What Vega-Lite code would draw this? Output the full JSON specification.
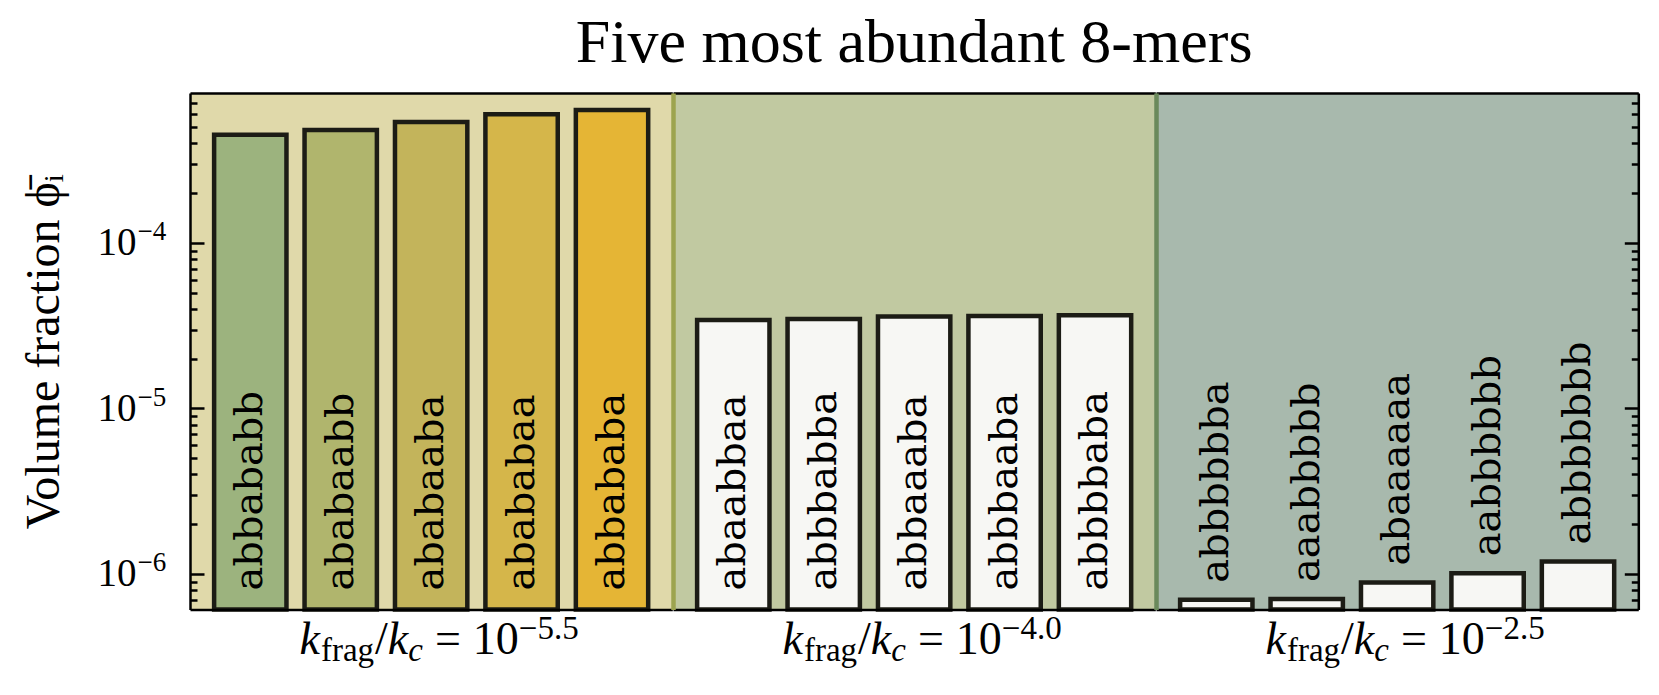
{
  "$schema": "https://vega.github.io/schema/vega-lite/v6.json",
  "padding": {"left": 20, "top": 12, "right": 18, "bottom": 5},
  "datasets": {
    "bars": [
      {"grp": 1, "rank": 1, "kmer": "abbababb", "phi": 4.51e-4},
      {"grp": 1, "rank": 2, "kmer": "ababaabb", "phi": 4.82e-4},
      {"grp": 1, "rank": 3, "kmer": "ababaaba", "phi": 5.38e-4},
      {"grp": 1, "rank": 4, "kmer": "abababaa", "phi": 6.00e-4},
      {"grp": 1, "rank": 5, "kmer": "abbababa", "phi": 6.36e-4},
      {"grp": 2, "rank": 1, "kmer": "abaabbaa", "phi": 3.42e-5},
      {"grp": 2, "rank": 2, "kmer": "abbbabba", "phi": 3.47e-5},
      {"grp": 2, "rank": 3, "kmer": "abbaaaba", "phi": 3.59e-5},
      {"grp": 2, "rank": 4, "kmer": "abbbaaba", "phi": 3.62e-5},
      {"grp": 2, "rank": 5, "kmer": "abbbbaba", "phi": 3.66e-5},
      {"grp": 3, "rank": 1, "kmer": "abbbbbba", "phi": 6.99e-7},
      {"grp": 3, "rank": 2, "kmer": "aaabbbbb", "phi": 7.06e-7},
      {"grp": 3, "rank": 3, "kmer": "abaaaaaa", "phi": 8.89e-7},
      {"grp": 3, "rank": 4, "kmer": "aabbbbbb", "phi": 1.01e-6},
      {"grp": 3, "rank": 5, "kmer": "abbbbbbb", "phi": 1.19e-6}
    ]
  },
  "spacing": 0,
  "bounds": "flush",
  "hconcat": [
    {
      "width": 482.3, "height": 516.5,
      "view": {"fill": "#e0d9aa", "stroke": null},
      "data": {"name": "bars"},
      "transform": [{"filter": "datum.grp == 1"}],
      "resolve": {"axis": {"y": "independent", "x": "independent"}},
      "layer": [
        {
          "mark": {"type": "bar", "stroke": "#1c1c15", "strokeWidth": 4.5},
          "encoding": {
            "x": {"field": "rank", "type": "ordinal", "scale": {"paddingInner": 0.2, "paddingOuter": 0.2667}, "axis": {"orient": "bottom", "labels": false, "ticks": false, "title": null, "domainColor": "black", "domainWidth": 2.5, "zindex": 1}},
            "y": {"field": "phi", "type": "quantitative", "stack": null, "scale": {"type": "log", "domain": [6.1e-7, 8.06e-4], "nice": false},
              "axis": {"orient": "left", "values": [1e-6, 1e-5, 1e-4], "labelExpr": "'10'", "labelAlign": "right", "labelBaseline": "middle", "tickSize": -14, "tickWidth": 2.5, "tickColor": "black", "labelPadding": 68, "labelFont": "Liberation Serif", "labelFontSize": 39, "labelColor": "black", "domainColor": "black", "domainWidth": 2.5, "grid": false, "title": "Volume fraction ϕ̄ᵢ", "titleFont": "Liberation Serif", "titleFontSize": 48, "titleFontWeight": "normal", "titleColor": "black", "titlePadding": 29, "zindex": 1}},
            "y2": {"value": "height"},
            "fill": {"field": "rank", "type": "ordinal", "scale": {"range": ["#9cb37e", "#b0b56d", "#c3b45b", "#d5b64a", "#e5b535"]}, "legend": null}
          }
        },
        {
          "mark": {"type": "point", "opacity": 0},
          "encoding": {
            "x": {"field": "rank", "type": "ordinal", "axis": null},
            "y": {"field": "phi", "type": "quantitative", "axis": {"orient": "left", "values": [7e-7, 8e-7, 9e-7, 2e-6, 3e-6, 4e-6, 5e-6, 6e-6, 7e-6, 8e-6, 9e-6, 2e-5, 3e-5, 4e-5, 5e-5, 6e-5, 7e-5, 8e-5, 9e-5, 2e-4, 3e-4, 4e-4, 5e-4, 6e-4, 7e-4], "labels": false, "domain": false, "tickSize": -7, "tickWidth": 2.5, "tickColor": "black", "grid": false, "title": null, "zindex": 1}}
          }
        },
        {
          "mark": {"type": "point", "opacity": 0},
          "encoding": {
            "x": {"field": "rank", "type": "ordinal", "axis": null},
            "y": {"field": "phi", "type": "quantitative", "axis": {"orient": "left", "values": [1e-6, 1e-5, 1e-4], "labelExpr": "datum.value < 3e-6 ? '−6' : datum.value < 3e-5 ? '−5' : '−4'", "labelAlign": "left", "labelBaseline": "middle", "labelOffset": -11, "labelPadding": 67, "tickSize": -14, "tickOpacity": 0, "labelFont": "Liberation Serif", "labelFontSize": 27, "labelColor": "black", "domain": false, "grid": false, "title": null, "zindex": 1}}
          }
        },
        {
          "mark": {"type": "text", "angle": 270, "align": "left", "baseline": "middle", "font": "DejaVu Serif", "fontSize": 40, "dx": 19, "color": "black"},
          "encoding": {
            "x": {"field": "rank", "type": "ordinal", "axis": {"orient": "top", "labels": false, "ticks": false, "title": null, "domainColor": "black", "domainWidth": 2.5, "zindex": 1}},
            "y": {"value": "height"},
            "text": {"field": "kmer"}
          }
        },
        {
          "transform": [{"filter": "datum.rank == 3"}],
          "encoding": {"x": {"field": "rank", "type": "ordinal", "axis": null}, "y": {"value": "height"}},
          "layer": [
            {"mark": {"type": "text", "font": "Liberation Serif", "fontSize": 46, "fontStyle": "italic", "align": "left", "baseline": "alphabetic", "dx": -131.6, "dy": 44, "color": "black"}, "encoding": {"text": {"value": "k"}}},
            {"mark": {"type": "text", "font": "Liberation Serif", "fontSize": 33, "align": "left", "baseline": "alphabetic", "dx": -110.2, "dy": 51, "color": "black"}, "encoding": {"text": {"value": "frag"}}},
            {"mark": {"type": "text", "font": "Liberation Serif", "fontSize": 46, "align": "left", "baseline": "alphabetic", "dx": -56.1, "dy": 44, "color": "black"}, "encoding": {"text": {"value": "/"}}},
            {"mark": {"type": "text", "font": "Liberation Serif", "fontSize": 46, "fontStyle": "italic", "align": "left", "baseline": "alphabetic", "dx": -43.3, "dy": 44, "color": "black"}, "encoding": {"text": {"value": "k"}}},
            {"mark": {"type": "text", "font": "Liberation Serif", "fontSize": 33, "fontStyle": "italic", "align": "left", "baseline": "alphabetic", "dx": -22.9, "dy": 51, "color": "black"}, "encoding": {"text": {"value": "c"}}},
            {"mark": {"type": "text", "font": "Liberation Serif", "fontSize": 46, "align": "left", "baseline": "alphabetic", "dx": 3.8, "dy": 44, "color": "black"}, "encoding": {"text": {"value": "="}}},
            {"mark": {"type": "text", "font": "Liberation Serif", "fontSize": 46, "align": "left", "baseline": "alphabetic", "dx": 41.7, "dy": 44, "color": "black"}, "encoding": {"text": {"value": "10"}}},
            {"mark": {"type": "text", "font": "Liberation Serif", "fontSize": 33, "align": "left", "baseline": "alphabetic", "dx": 87.7, "dy": 29, "color": "black"}, "encoding": {"text": {"value": "−5.5"}}}
          ]
        }
      ]
    },
    {
      "width": 482.3, "height": 516.5,
      "title": {"text": "Five most abundant 8-mers", "font": "Liberation Serif", "fontSize": 62, "fontWeight": "normal", "color": "black", "anchor": "middle", "offset": 18},
      "view": {"fill": "#c1c9a1", "stroke": null},
      "data": {"name": "bars"},
      "transform": [{"filter": "datum.grp == 2"}],
      "resolve": {"axis": {"y": "independent", "x": "independent"}},
      "layer": [
        {
          "mark": {"type": "bar", "stroke": "#1c1c15", "strokeWidth": 4.5, "fill": "#f7f7f4"},
          "encoding": {
            "x": {"field": "rank", "type": "ordinal", "scale": {"paddingInner": 0.2, "paddingOuter": 0.2667}, "axis": {"orient": "bottom", "labels": false, "ticks": false, "title": null, "domainColor": "black", "domainWidth": 2.5, "zindex": 1}},
            "y": {"field": "phi", "type": "quantitative", "stack": null, "scale": {"type": "log", "domain": [6.1e-7, 8.06e-4], "nice": false},
              "axis": {"orient": "left", "labels": false, "ticks": false, "grid": false, "title": null, "domainColor": "#9da44f", "domainWidth": 4.5, "zindex": 1}},
            "y2": {"value": "height"}
          }
        },
        {
          "mark": {"type": "text", "angle": 270, "align": "left", "baseline": "middle", "font": "DejaVu Serif", "fontSize": 40, "dx": 19, "color": "black"},
          "encoding": {
            "x": {"field": "rank", "type": "ordinal", "axis": {"orient": "top", "labels": false, "ticks": false, "title": null, "domainColor": "black", "domainWidth": 2.5, "zindex": 1}},
            "y": {"value": "height"},
            "text": {"field": "kmer"}
          }
        },
        {
          "transform": [{"filter": "datum.rank == 3"}],
          "encoding": {"x": {"field": "rank", "type": "ordinal", "axis": null}, "y": {"value": "height"}},
          "layer": [
            {"mark": {"type": "text", "font": "Liberation Serif", "fontSize": 46, "fontStyle": "italic", "align": "left", "baseline": "alphabetic", "dx": -131.6, "dy": 44, "color": "black"}, "encoding": {"text": {"value": "k"}}},
            {"mark": {"type": "text", "font": "Liberation Serif", "fontSize": 33, "align": "left", "baseline": "alphabetic", "dx": -110.2, "dy": 51, "color": "black"}, "encoding": {"text": {"value": "frag"}}},
            {"mark": {"type": "text", "font": "Liberation Serif", "fontSize": 46, "align": "left", "baseline": "alphabetic", "dx": -56.1, "dy": 44, "color": "black"}, "encoding": {"text": {"value": "/"}}},
            {"mark": {"type": "text", "font": "Liberation Serif", "fontSize": 46, "fontStyle": "italic", "align": "left", "baseline": "alphabetic", "dx": -43.3, "dy": 44, "color": "black"}, "encoding": {"text": {"value": "k"}}},
            {"mark": {"type": "text", "font": "Liberation Serif", "fontSize": 33, "fontStyle": "italic", "align": "left", "baseline": "alphabetic", "dx": -22.9, "dy": 51, "color": "black"}, "encoding": {"text": {"value": "c"}}},
            {"mark": {"type": "text", "font": "Liberation Serif", "fontSize": 46, "align": "left", "baseline": "alphabetic", "dx": 3.8, "dy": 44, "color": "black"}, "encoding": {"text": {"value": "="}}},
            {"mark": {"type": "text", "font": "Liberation Serif", "fontSize": 46, "align": "left", "baseline": "alphabetic", "dx": 41.7, "dy": 44, "color": "black"}, "encoding": {"text": {"value": "10"}}},
            {"mark": {"type": "text", "font": "Liberation Serif", "fontSize": 33, "align": "left", "baseline": "alphabetic", "dx": 87.7, "dy": 29, "color": "black"}, "encoding": {"text": {"value": "−4.0"}}}
          ]
        }
      ]
    },
    {
      "width": 482.3, "height": 516.5,
      "view": {"fill": "#a8b9ad", "stroke": null},
      "data": {"name": "bars"},
      "transform": [{"filter": "datum.grp == 3"}],
      "resolve": {"axis": {"y": "independent", "x": "independent"}},
      "layer": [
        {
          "mark": {"type": "bar", "stroke": "#1c1c15", "strokeWidth": 4.5, "fill": "#f7f7f4"},
          "encoding": {
            "x": {"field": "rank", "type": "ordinal", "scale": {"paddingInner": 0.2, "paddingOuter": 0.2667}, "axis": {"orient": "bottom", "labels": false, "ticks": false, "title": null, "domainColor": "black", "domainWidth": 2.5, "zindex": 1}},
            "y": {"field": "phi", "type": "quantitative", "stack": null, "scale": {"type": "log", "domain": [6.1e-7, 8.06e-4], "nice": false},
              "axis": {"orient": "right", "values": [1e-6, 1e-5, 1e-4], "labels": false, "tickSize": -14, "tickWidth": 2.5, "tickColor": "black", "domainColor": "black", "domainWidth": 2.5, "grid": false, "title": null, "zindex": 1}},
            "y2": {"value": "height"}
          }
        },
        {
          "mark": {"type": "point", "opacity": 0},
          "encoding": {
            "x": {"field": "rank", "type": "ordinal", "axis": null},
            "y": {"field": "phi", "type": "quantitative", "axis": {"orient": "right", "values": [7e-7, 8e-7, 9e-7, 2e-6, 3e-6, 4e-6, 5e-6, 6e-6, 7e-6, 8e-6, 9e-6, 2e-5, 3e-5, 4e-5, 5e-5, 6e-5, 7e-5, 8e-5, 9e-5, 2e-4, 3e-4, 4e-4, 5e-4, 6e-4, 7e-4], "labels": false, "domain": false, "tickSize": -7, "tickWidth": 2.5, "tickColor": "black", "grid": false, "title": null, "zindex": 1}}
          }
        },
        {
          "mark": {"type": "text", "angle": 270, "align": "left", "baseline": "middle", "font": "DejaVu Serif", "fontSize": 40, "dx": 17, "color": "black"},
          "encoding": {
            "x": {"field": "rank", "type": "ordinal", "axis": {"orient": "top", "labels": false, "ticks": false, "title": null, "domainColor": "black", "domainWidth": 2.5, "zindex": 1}},
            "y": {"field": "phi", "type": "quantitative", "axis": {"orient": "left", "labels": false, "ticks": false, "grid": false, "title": null, "domainColor": "#6a895b", "domainWidth": 4.5, "zindex": 1}},
            "text": {"field": "kmer"}
          }
        },
        {
          "transform": [{"filter": "datum.rank == 3"}],
          "encoding": {"x": {"field": "rank", "type": "ordinal", "axis": null}, "y": {"value": "height"}},
          "layer": [
            {"mark": {"type": "text", "font": "Liberation Serif", "fontSize": 46, "fontStyle": "italic", "align": "left", "baseline": "alphabetic", "dx": -131.6, "dy": 44, "color": "black"}, "encoding": {"text": {"value": "k"}}},
            {"mark": {"type": "text", "font": "Liberation Serif", "fontSize": 33, "align": "left", "baseline": "alphabetic", "dx": -110.2, "dy": 51, "color": "black"}, "encoding": {"text": {"value": "frag"}}},
            {"mark": {"type": "text", "font": "Liberation Serif", "fontSize": 46, "align": "left", "baseline": "alphabetic", "dx": -56.1, "dy": 44, "color": "black"}, "encoding": {"text": {"value": "/"}}},
            {"mark": {"type": "text", "font": "Liberation Serif", "fontSize": 46, "fontStyle": "italic", "align": "left", "baseline": "alphabetic", "dx": -43.3, "dy": 44, "color": "black"}, "encoding": {"text": {"value": "k"}}},
            {"mark": {"type": "text", "font": "Liberation Serif", "fontSize": 33, "fontStyle": "italic", "align": "left", "baseline": "alphabetic", "dx": -22.9, "dy": 51, "color": "black"}, "encoding": {"text": {"value": "c"}}},
            {"mark": {"type": "text", "font": "Liberation Serif", "fontSize": 46, "align": "left", "baseline": "alphabetic", "dx": 3.8, "dy": 44, "color": "black"}, "encoding": {"text": {"value": "="}}},
            {"mark": {"type": "text", "font": "Liberation Serif", "fontSize": 46, "align": "left", "baseline": "alphabetic", "dx": 41.7, "dy": 44, "color": "black"}, "encoding": {"text": {"value": "10"}}},
            {"mark": {"type": "text", "font": "Liberation Serif", "fontSize": 33, "align": "left", "baseline": "alphabetic", "dx": 87.7, "dy": 29, "color": "black"}, "encoding": {"text": {"value": "−2.5"}}}
          ]
        }
      ]
    }
  ],
  "config": {"font": "Liberation Serif", "view": {"stroke": null}}
}
